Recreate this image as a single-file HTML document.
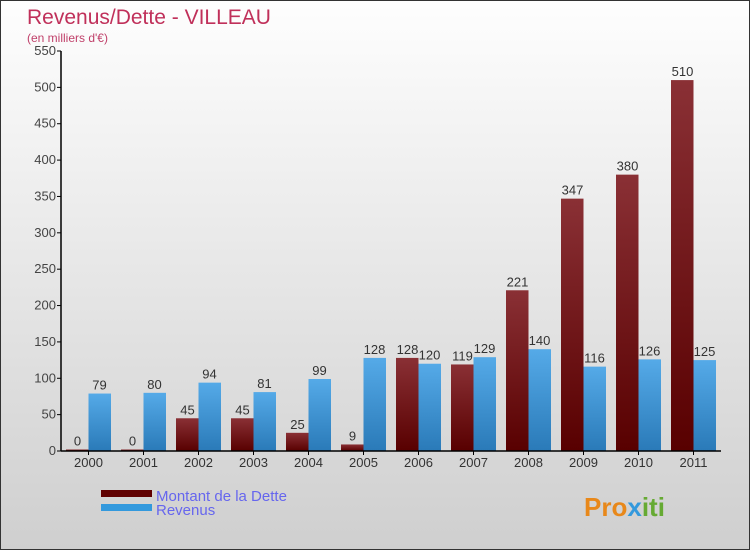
<!DOCTYPE html>
<html><head><meta charset="utf-8"><style>
body{margin:0}
#c{width:750px;height:550px;position:relative;overflow:hidden;box-sizing:border-box;border:1px solid #333;background:linear-gradient(#fefefe,#cfcfcf);font-family:"Liberation Sans",sans-serif}
</style></head><body>
<div id="c">
<svg id="s" width="750" height="550" style="position:absolute;left:0;top:0;font-family:'Liberation Sans',sans-serif">
<defs>
<linearGradient id="gd" x1="0" y1="0" x2="0" y2="1"><stop offset="0" stop-color="#8a3035"/><stop offset="1" stop-color="#580000"/></linearGradient>
<linearGradient id="gr" x1="0" y1="0" x2="0" y2="1"><stop offset="0" stop-color="#55aae8"/><stop offset="1" stop-color="#2a7ab8"/></linearGradient>
</defs>
<text x="26" y="23" font-size="21" fill="#c0305a">Revenus/Dette - VILLEAU</text>
<text x="26" y="41" font-size="12" fill="#c0406a">(en milliers d'€)</text>
<g id="g"></g>
<rect x="100" y="489" width="51" height="7" fill="#600000"/>
<rect x="100" y="503" width="51" height="7" fill="#3399dd"/>
<text x="155" y="500" font-size="15" fill="#6666ee">Montant de la Dette</text>
<text x="155" y="514" font-size="15" fill="#6666ee">Revenus</text>
<text x="583" y="515" font-size="26" font-weight="bold" fill="#e8881a">Pro<tspan fill="#3399dd">x</tspan><tspan fill="#66aa33">iti</tspan></text>
</svg>
</div>
<script>
const years=["2000","2001","2002","2003","2004","2005","2006","2007","2008","2009","2010","2011"];
const dette=[0,0,45,45,25,9,128,119,221,347,380,510];
const revenus=[79,80,94,81,99,128,120,129,140,116,126,125];
const yTicks=[0,50,100,150,200,250,300,350,400,450,500,550];
const NS="http://www.w3.org/2000/svg";
const g=document.getElementById('g');
const x0=60,band=55,y0=450,k=400/550;
const y=v=>y0-v*k;
const cx=i=>x0+band*(i+0.5);
function mk(t,a,txt){const e=document.createElementNS(NS,t);for(const n in a)e.setAttribute(n,a[n]);if(txt!=null)e.textContent=txt;g.appendChild(e);return e;}
yTicks.forEach(v=>{
 const l=mk('line',{x1:x0-4,x2:x0,y1:y(v),y2:y(v),stroke:'#000'});
 
 
 const t=mk('text',{x:x0-5,y:y(v)+4,'font-size':13,fill:'#444','text-anchor':'end'},v);
 
 
});
years.forEach((yr,i)=>{
 const c=cx(i);
 const hd=Math.max(dette[i]*k,1.5);
 const b1=mk('rect',{x:c-22.5,y:y0-hd,width:22.5,height:hd,fill:'url(#gd)'});
 
 
 const hr=revenus[i]*k;
 const b2=mk('rect',{x:c,y:y0-hr,width:22.5,height:hr,fill:'url(#gr)'});
 
 
 const t1=mk('text',{x:c-11,y:y0-hd-4,'font-size':13,fill:'#333','text-anchor':'middle'},dette[i]);
 
 
 const t2=mk('text',{x:c+11,y:y0-hr-4,'font-size':13,fill:'#333','text-anchor':'middle'},revenus[i]);
 
 
 const tk=mk('line',{x1:c,x2:c,y1:y0,y2:y0+4,stroke:'#000'});
 
 
 const xl=mk('text',{x:c,y:y0+16,'font-size':13,fill:'#333','text-anchor':'middle'},yr);
 
 
});
const ya=mk('line',{x1:x0,x2:x0,y1:y(550),y2:y0,stroke:'#000','stroke-width':1.5});


const xa=mk('line',{x1:x0,x2:x0+band*12,y1:y0,y2:y0,stroke:'#000','stroke-width':1.5});


</script>
</body></html>
